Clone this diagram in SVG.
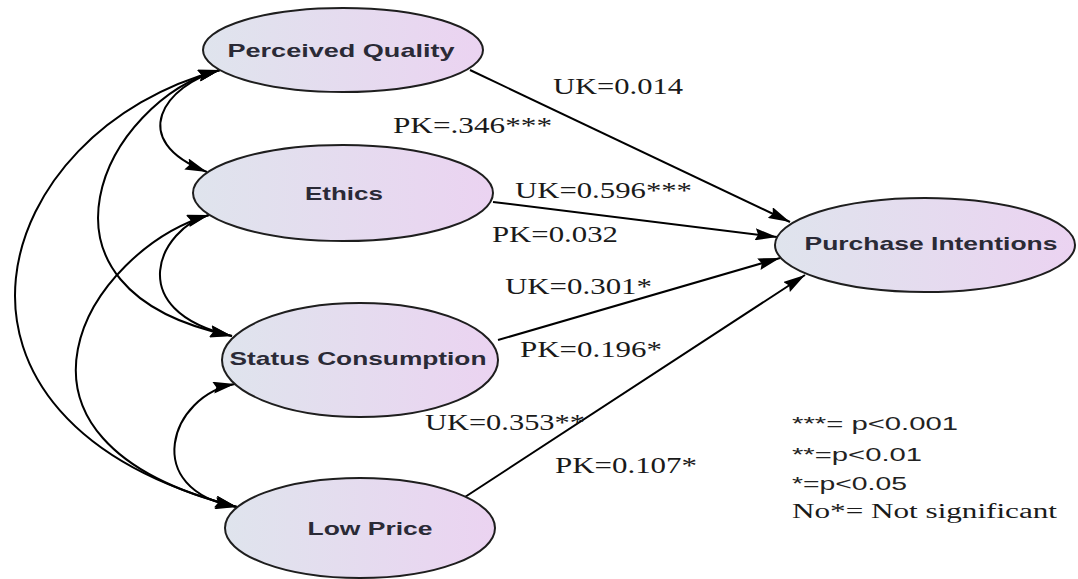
<svg xmlns="http://www.w3.org/2000/svg" width="1078" height="579" viewBox="0 0 1078 579">
<defs>
<linearGradient id="fill" x1="0" y1="0" x2="1" y2="0">
<stop offset="0" stop-color="#dfe4ed"/>
<stop offset="1" stop-color="#ebd3f1"/>
</linearGradient>
<marker id="ah" viewBox="0 0 22 12" refX="22" refY="6" markerWidth="22" markerHeight="12" markerUnits="userSpaceOnUse" orient="auto-start-reverse">
<path d="M0,0 L22,6 L0,12 L3,6 z" fill="#000"/>
</marker>
</defs>
<style>
.node ellipse{fill:url(#fill);stroke:#1e1e1e;stroke-width:2}
.node text{font-family:"Liberation Sans",Arial,sans-serif;font-weight:bold;font-size:19px;fill:#2a2a36;text-anchor:middle}
.conn path{fill:none;stroke:#000;stroke-width:2}
.conn .dir{marker-end:url(#ah)}
.conn .cov{marker-start:url(#ah);marker-end:url(#ah)}
.lbl{font-family:"Liberation Serif","Times New Roman",serif;font-size:23px;fill:#1a1a1a}
.leg{font-family:"Liberation Sans",Arial,sans-serif;font-size:18px;fill:#222}
.legs{font-family:"Liberation Serif","Times New Roman",serif;font-size:20px;fill:#1a1a1a}
</style>
<rect width="1078" height="579" fill="#fff"/>
<g id="connectors" class="conn">
<path class="dir" d="M470,70 L790,222"/>
<path class="dir" d="M493,202 L777,237"/>
<path class="dir" d="M498,340 L780,258"/>
<path class="dir" d="M465,497 L805,275"/>
<path class="cov" d="M220,70 C165,85 125,140 207,172"/>
<path class="cov" d="M220,70 C106,100 10,290 232,336"/>
<path class="cov" d="M220,70 C-10,130 -100,420 237,507"/>
<path class="cov" d="M209,215 C160,228 120,310 232,336"/>
<path class="cov" d="M209,215 C90,250 -31,440 237,507"/>
<path class="cov" d="M235,384 C170,395 139,490 237,507"/>
</g>
<g id="pq" class="node">
<ellipse cx="343" cy="50" rx="140" ry="42"/>
<text x="341" y="57" textLength="227" lengthAdjust="spacingAndGlyphs">Perceived Quality</text>
</g>
<g id="ethics" class="node">
<ellipse cx="343" cy="193" rx="150" ry="48"/>
<text x="344" y="200" textLength="78" lengthAdjust="spacingAndGlyphs">Ethics</text>
</g>
<g id="status" class="node">
<ellipse cx="360" cy="360" rx="138" ry="57"/>
<text x="358" y="365" textLength="257" lengthAdjust="spacingAndGlyphs">Status Consumption</text>
</g>
<g id="lowprice" class="node">
<ellipse cx="360" cy="528" rx="135" ry="50"/>
<text x="370" y="535" textLength="125" lengthAdjust="spacingAndGlyphs">Low Price</text>
</g>
<g id="pi" class="node">
<ellipse cx="925" cy="245" rx="150" ry="47"/>
<text x="931" y="250" textLength="253" lengthAdjust="spacingAndGlyphs">Purchase Intentions</text>
</g>
<g id="labels">
<text class="lbl" x="553" y="94" textLength="130" lengthAdjust="spacingAndGlyphs">UK=0.014</text>
<text class="lbl" x="393" y="133" textLength="159" lengthAdjust="spacingAndGlyphs">PK=.346***</text>
<text class="lbl" x="515" y="198" textLength="177" lengthAdjust="spacingAndGlyphs">UK=0.596***</text>
<text class="lbl" x="492" y="242" textLength="126" lengthAdjust="spacingAndGlyphs">PK=0.032</text>
<text class="lbl" x="505" y="294" textLength="147" lengthAdjust="spacingAndGlyphs">UK=0.301*</text>
<text class="lbl" x="520" y="357" textLength="142" lengthAdjust="spacingAndGlyphs">PK=0.196*</text>
<text class="lbl" x="425" y="430" textLength="160" lengthAdjust="spacingAndGlyphs">UK=0.353**</text>
<text class="lbl" x="555" y="473" textLength="142" lengthAdjust="spacingAndGlyphs">PK=0.107*</text>
</g>
<g id="legend">
<text class="leg" x="792" y="430" textLength="166" lengthAdjust="spacingAndGlyphs">***= p&lt;0.001</text>
<text class="leg" x="792" y="461" textLength="130" lengthAdjust="spacingAndGlyphs">**=p&lt;0.01</text>
<text class="leg" x="792" y="490" textLength="115" lengthAdjust="spacingAndGlyphs">*=p&lt;0.05</text>
<text class="legs" x="792" y="518" textLength="265" lengthAdjust="spacingAndGlyphs">No*= Not significant</text>
</g>
</svg>
